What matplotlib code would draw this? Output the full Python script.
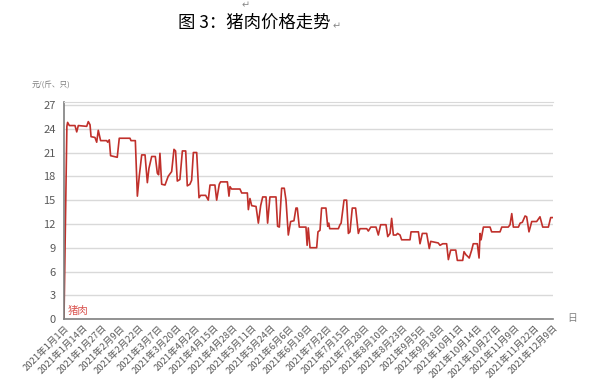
import matplotlib.pyplot as plt
import numpy as np

plt.rcParams['font.family'] = ['Noto Sans CJK SC', 'DejaVu Sans']

# day index (from 2021-1-1) and pork price
days = [0, 2, 2.5, 3.7, 7.6, 8.8, 9.9, 15.7, 16.8, 18, 18.7, 21.4, 22.6, 23.7, 25.3, 29.5, 30.2, 31.3, 32.2, 36.8,
        38.2, 45.6, 46.3, 49.3, 50.7, 52, 53.7, 56, 57.6, 58.7, 60.6, 63.1, 64.5, 65.4, 66.3, 67.5, 69.8, 72, 74.4,
        76, 77.1, 78.3, 80.1, 81.8, 84.1, 85.2, 87, 88.2, 89.4, 91.7, 93.3, 94.4, 97.9, 99.7, 100.9, 104.3, 105.5,
        107.3, 108.2, 112.9, 114, 114.7, 115.8, 121.6, 122.8, 126.7, 127.4, 128.5, 129.7, 132.7, 134.3, 135.9,
        137.3, 139.6, 140.7, 142.3, 146.5, 147.6, 148.8, 150.4, 152.2, 153.4, 155, 156.6, 158.9, 160.3, 161.2,
        162.6, 167.2, 168.0, 168.8, 170, 174.6, 175.5, 176.9, 178, 181, 182.2, 183, 183.6, 189.6, 190.7, 191.5,
        193.5, 195.3, 196.5, 197.6, 199.2, 201.5, 203.4, 204.5, 209.2, 210.3, 212, 215.6, 217.2, 218.8, 222.5,
        223.7, 225.3, 226.4, 227.6, 229.5, 230.5, 232.2, 233.3, 239.1, 239.8, 244.9, 246, 247.6, 250.6, 252.4,
        253.4, 258.6, 259.8, 261.7, 264.4, 265.6, 267.2, 270.7, 271.8, 275.5, 276.4, 277.8, 279, 280, 281.7,
        282.8, 285.6, 286.8, 287.5, 288.2, 289.8, 294.4, 295.5, 301.3, 302.5, 307, 308.2, 309.4, 310.5, 314,
        315.2, 316.7, 318.6, 319.7, 321.3, 323.2, 326.6, 328.9, 330.8, 334.7, 336.3, 337.7]
price = [0, 24.3, 24.8, 24.4, 24.4, 23.6, 24.4, 24.3, 24.9, 24.5, 23.0, 22.9, 22.3, 23.8, 22.5, 22.5, 22.3, 22.6, 20.6, 20.4,
         22.8, 22.8, 22.5, 22.5, 15.5, 18.0, 20.7, 20.7, 17.2, 19.0, 20.5, 20.5, 18.4, 18.2, 20.9, 17.0, 16.9, 18.0, 18.6,
         21.4, 21.2, 17.4, 17.6, 21.2, 21.2, 16.8, 17.0, 17.5, 21.0, 21.0, 15.3, 15.6, 15.6, 15.0, 16.9, 16.9, 15.0,
         17.0, 17.3, 17.3, 15.5, 16.7, 16.4, 16.4, 15.9, 15.9, 13.8, 15.2, 14.3, 14.2, 12.1, 14.3,
         15.4, 15.4, 12.1, 15.4, 15.4, 11.7, 11.6, 16.5, 16.5, 15.0, 10.6, 12.3, 12.4, 14.0, 14.0,
         11.6, 11.6, 9.3, 11.5, 9.0, 9.0, 11.0, 11.2, 14.0, 14.0, 11.7, 12.1, 11.4, 11.4, 11.9, 12.1,
         15.0, 15.0, 10.8, 11.0, 14.0, 14.0, 10.8, 11.4, 11.4, 11.1, 11.6, 11.6, 10.6, 11.9, 11.9,
         10.4, 10.8, 12.7, 10.6, 10.6, 10.8, 10.6, 10.0, 10.0, 11.0, 11.0, 9.5, 10.8, 10.8, 8.9,
         9.8, 9.6, 9.3, 9.5, 9.5, 7.5, 8.7, 8.7, 7.4, 7.4, 8.5, 8.1, 7.9, 7.7, 8.7,
         9.5, 9.5, 7.7, 10.8, 10.0, 11.6, 11.6, 11.0, 11.0, 11.6, 11.6, 11.9, 13.3, 11.6, 11.6,
         12.1, 12.2, 13.0, 12.9, 11.0, 12.3, 12.3, 12.9, 11.6, 11.6, 12.8, 12.8]

tick_labels = ["2021年1月1日", "2021年1月14日", "2021年1月27日", "2021年2月9日", "2021年2月22日",
               "2021年3月7日", "2021年3月20日", "2021年4月2日", "2021年4月15日", "2021年4月28日",
               "2021年5月11日", "2021年5月24日", "2021年6月6日", "2021年6月19日", "2021年7月2日",
               "2021年7月15日", "2021年7月28日", "2021年8月10日", "2021年8月23日", "2021年9月5日",
               "2021年9月18日", "2021年10月1日", "2021年10月14日", "2021年10月27日", "2021年11月9日",
               "2021年11月22日", "2021年12月9日"]
tick_pos = np.arange(len(tick_labels)) * 13

fig = plt.figure(figsize=(5.98, 3.84), dpi=100)
ax = fig.add_axes([0.107, 0.169, 0.818, 0.566])

ax.plot(days, price, color='#c0302b', lw=1.2)

ax.set_xlim(0, 338)
ax.set_ylim(0, 27.4)
ax.set_yticks(range(0, 28, 3))
ax.set_xticks(tick_pos)
ax.set_xticklabels(tick_labels, rotation=45, ha='right', rotation_mode='anchor', fontsize=6.8, color='#595959')
ax.tick_params(axis='y', length=0, labelsize=8, colors='#595959', pad=6)
ax.tick_params(axis='x', length=0, pad=3)
ax.grid(axis='y', color='#d9d9d9', lw=1)
ax.set_axisbelow(True)

for s in ['left', 'bottom']:
    ax.spines[s].set_color('#7f7f7f')
    ax.spines[s].set_linewidth(1.2)
ax.spines['top'].set_color('#d9d9d9')
ax.spines['right'].set_visible(False)

ax.text(2.5, 0.35, '猪肉', color='#d9534f', fontsize=7.5, va='bottom', ha='left')

fig.text(0.053, 0.78, '元/(斤、只)', fontsize=5.5, color='#7f7f7f', va='center')
fig.text(0.948, 0.172, '日', fontsize=7, color='#7f7f7f', va='center')
fig.text(0.425, 0.94, '图 3：猪肉价格走势', fontsize=12.5, color='black', ha='center', va='center')
fig.text(0.556, 0.932, '↵', fontsize=7, color='#888888', va='center', family='DejaVu Sans')
fig.text(0.404, 0.985, '↵', fontsize=7, color='#888888', va='center', family='DejaVu Sans')

fig.savefig('out.png', dpi=100)
